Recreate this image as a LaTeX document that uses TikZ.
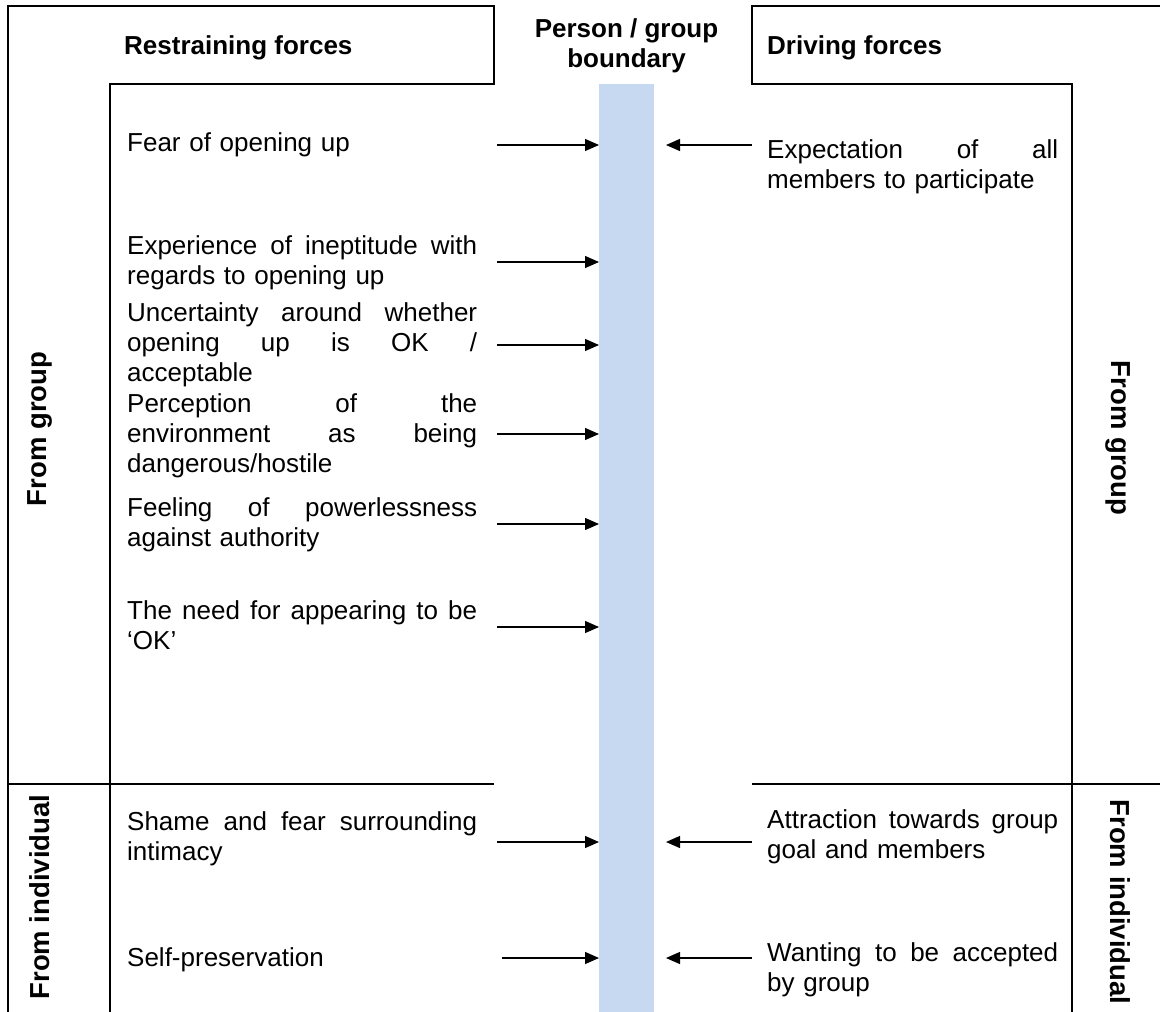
\documentclass[tikz,border=0pt]{standalone}
\usepackage{fontspec}
\setmainfont{Liberation Sans}
\usetikzlibrary{arrows.meta}
\definecolor{barblue}{HTML}{C6D9F1}
\newcommand{\jla}[1]{\makebox[350pt][s]{\spaceskip=0.278em plus 1fil\relax #1}}
\newcommand{\jra}[1]{\makebox[291pt][s]{\spaceskip=0.278em plus 1fil\relax #1}}
\begin{document}
\begin{tikzpicture}[x=1pt,y=-1pt,
  frame/.style={line width=1.5pt},
  body/.style={font=\fontsize{26}{30}\selectfont, inner sep=0pt, anchor=base west, align=left},
  lbody/.style={body, text width=350pt},
  rbody/.style={body, text width=291pt},
  head/.style={font=\bfseries\fontsize{26}{30}\selectfont, inner sep=0pt},
  side/.style={font=\bfseries\fontsize{27.5}{31}\selectfont, inner sep=0pt},
  force/.style={line width=1.3pt, -{Triangle[length=14pt,width=12pt]}}]
\useasboundingbox (0,0) rectangle (1160,1012);
% boundary bar
\node[fill=barblue, inner sep=0pt, minimum width=55pt, minimum height=928pt, anchor=north west] (bar) at (599,84) {};
% frames
\draw[frame] (8,1012) -- (8,6) -- (494,6) -- (494,84) -- (110,84) -- (110,1012);
\draw[frame] (8,784) -- (494,784);
\draw[frame] (1160,6) -- (752,6) -- (752,84) -- (1072,84) -- (1072,1012);
\draw[frame] (752,784) -- (1160,784);
% headers
\node[head, anchor=base west] (hr) at (124,54) {Restraining forces};
\node[head, anchor=base, align=center] (hb) at (626.5,67) {Person / group\\boundary};
\node[head, anchor=base west] (hd) at (767,54) {Driving forces};
% side labels
\node[side, rotate=90] (lg) at (40,429) {From group};
\node[side, rotate=90] (li) at (40,897) {From individual};
\node[side, rotate=-90] (rg) at (1118,438) {From group};
\node[side, rotate=-90] (ri) at (1120,902) {From individual};
% left texts
\node[lbody] (t1) at (127,151) {Fear of opening up};
\node[lbody] (t2) at (127,254) {\jla{Experience of ineptitude with}\\regards to opening up};
\node[lbody] (t3) at (127,321) {\jla{Uncertainty around whether}\\\jla{opening up is OK /}\\acceptable};
\node[lbody] (t4) at (127,412) {\jla{Perception of the}\\\jla{environment as being}\\dangerous/hostile};
\node[lbody] (t5) at (127,516) {\jla{Feeling of powerlessness}\\against authority};
\node[lbody] (t6) at (127,619) {\jla{The need for appearing to be}\\‘OK’};
\node[lbody] (t7) at (127,830) {\jla{Shame and fear surrounding}\\intimacy};
\node[lbody] (t8) at (127,966) {Self-preservation};
% right texts
\node[rbody] (r1) at (767,158) {\jra{Expectation of all}\\members to participate};
\node[rbody] (r7) at (767,828) {\jra{Attraction towards group}\\goal and members};
\node[rbody] (r8) at (767,961) {\jra{Wanting to be accepted}\\by group};
% left arrows
\coordinate (la1) at (497,145);
\coordinate (la2) at (497,262);
\coordinate (la3) at (497,345);
\coordinate (la4) at (497,434);
\coordinate (la5) at (497,524);
\coordinate (la6) at (497,627);
\coordinate (la7) at (497,842);
\coordinate (la8) at (502,958);
\foreach \i in {1,...,8} {\draw[force] (la\i) -- (la\i -| bar.west);}
% right arrows
\coordinate (ra1) at (752,145); \coordinate (rt1) at (666,145);
\coordinate (ra7) at (752,842); \coordinate (rt7) at (666,842);
\coordinate (ra8) at (752,958); \coordinate (rt8) at (666,958);
\foreach \i in {1,7,8} {\draw[force] (ra\i) -- (rt\i);}
\end{tikzpicture}
\end{document}
